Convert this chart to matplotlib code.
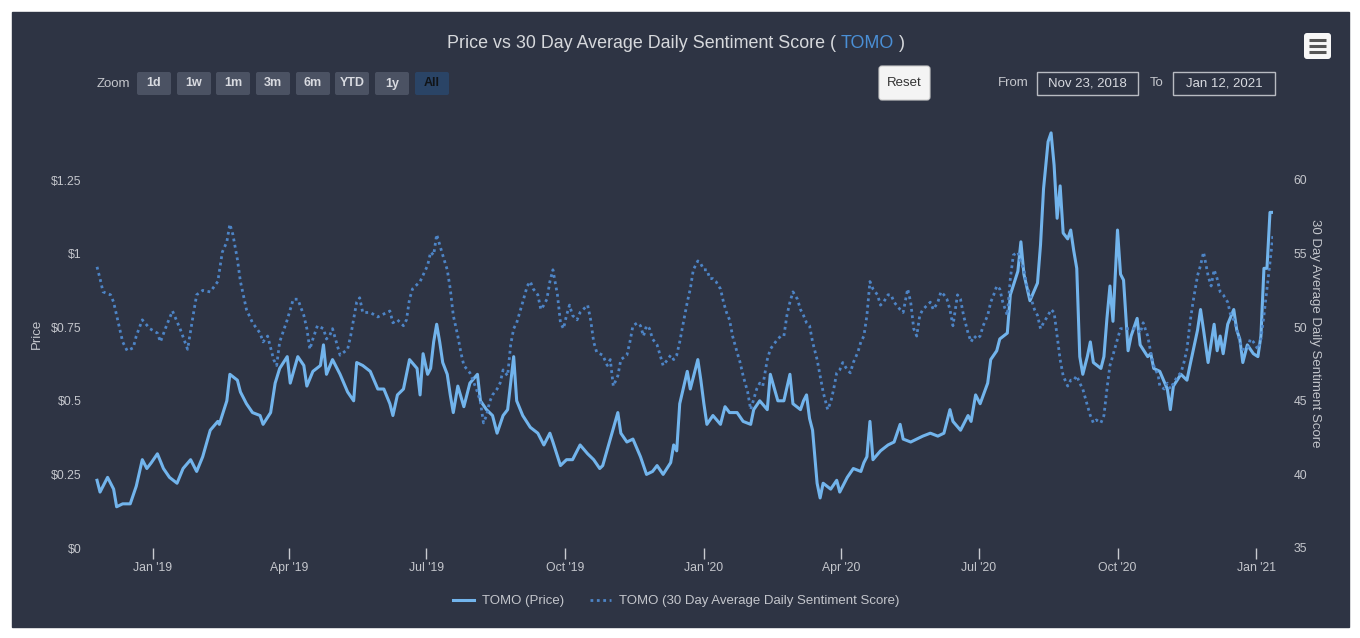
import numpy as np
import matplotlib
matplotlib.use("Agg")
from matplotlib import pyplot as plt
import matplotlib.dates as mdates
from matplotlib.patches import Rectangle, FancyBboxPatch

plt.rcParams['font.family'] = ['Liberation Sans', 'DejaVu Sans']

# datos (dias desde Nov 23, 2018)
start = np.datetime64('2018-11-23')
end = np.datetime64('2021-01-12')

price_days = [2, 4, 9, 13, 15, 19, 24, 28, 32, 35, 38, 42, 46, 50, 55, 59, 64, 68, 72, 77,
              82, 83, 88, 90, 95, 97, 101, 105, 110, 112, 117, 120, 123, 128, 130, 135, 139, 141, 145, 150,
              152, 154, 158, 163, 168, 172, 174, 178, 183, 188, 192, 196, 198, 201, 205, 209, 214, 216, 218, 221,
              223, 225, 227, 229, 231, 234, 236, 238, 241, 245, 249, 254, 256, 260, 264, 267, 271, 274, 276, 278,
              280, 284, 289, 294, 298, 302, 304, 309, 313, 317, 322, 327, 331, 335, 337, 342, 347, 349, 353, 357,
              362, 366, 370, 373, 377, 382, 384, 386, 388, 393, 395, 400, 402, 404, 406, 410, 415, 418, 421, 426,
              430, 435, 437, 441, 446, 448, 453, 457, 461, 463, 468, 470, 472, 474, 476, 479, 481, 483, 488, 492,
              494, 499, 503, 508, 510, 512, 514, 516, 521, 526, 530, 534, 536, 541, 545, 549, 554, 559, 563, 567,
              569, 574, 579, 581, 584, 587, 592, 594, 598, 600, 605, 607, 612, 614, 616, 620, 625, 627, 629, 632,
              634, 636, 638, 640, 642, 645, 647, 649, 651, 653, 655, 658, 660, 662, 667, 669, 671, 673, 675, 678,
              680, 682, 685, 687, 691, 693, 698, 700, 702, 706, 711, 713, 715, 720, 724, 726, 731, 733, 735, 738,
              742, 744, 746, 748, 751, 755, 757, 759, 761, 764, 768, 771, 773, 775, 777, 779, 781]
price = [0.23, 0.19, 0.24, 0.20, 0.14, 0.15, 0.15, 0.21, 0.30, 0.27, 0.29, 0.32, 0.27, 0.24, 0.22, 0.27, 0.30, 0.26, 0.31, 0.40,
         0.43, 0.42, 0.50, 0.59, 0.57, 0.53, 0.49, 0.46, 0.45, 0.42, 0.46, 0.56, 0.61, 0.65, 0.56, 0.65, 0.62, 0.55, 0.60, 0.62,
         0.69, 0.59, 0.64, 0.59, 0.53, 0.50, 0.63, 0.62, 0.60, 0.54, 0.54, 0.49, 0.45, 0.52, 0.54, 0.64, 0.61, 0.52, 0.66, 0.59,
         0.61, 0.70, 0.76, 0.70, 0.63, 0.59, 0.52, 0.46, 0.55, 0.48, 0.56, 0.59, 0.50, 0.47, 0.45, 0.39, 0.45, 0.47, 0.56, 0.65,
         0.50, 0.45, 0.41, 0.39, 0.35, 0.39, 0.36, 0.28, 0.30, 0.30, 0.35, 0.32, 0.30, 0.27, 0.28, 0.37, 0.46, 0.39, 0.36, 0.37,
         0.31, 0.25, 0.26, 0.28, 0.25, 0.29, 0.35, 0.33, 0.49, 0.60, 0.54, 0.64, 0.57, 0.49, 0.42, 0.45, 0.42, 0.48, 0.46, 0.46,
         0.43, 0.42, 0.47, 0.50, 0.47, 0.59, 0.50, 0.50, 0.59, 0.49, 0.47, 0.50, 0.52, 0.44, 0.40, 0.22, 0.17, 0.22, 0.20, 0.23,
         0.19, 0.24, 0.27, 0.26, 0.29, 0.31, 0.43, 0.30, 0.33, 0.35, 0.36, 0.42, 0.37, 0.36, 0.37, 0.38, 0.39, 0.38, 0.39, 0.47,
         0.43, 0.40, 0.45, 0.43, 0.52, 0.49, 0.56, 0.64, 0.67, 0.71, 0.73, 0.86, 0.94, 1.04, 0.93, 0.84, 0.90, 1.03, 1.22, 1.38,
         1.41, 1.30, 1.12, 1.23, 1.07, 1.05, 1.08, 1.01, 0.95, 0.65, 0.59, 0.65, 0.70, 0.63, 0.61, 0.65, 0.78, 0.89, 0.77, 1.08,
         0.93, 0.91, 0.67, 0.72, 0.78, 0.69, 0.65, 0.66, 0.61, 0.60, 0.54, 0.47, 0.55, 0.59, 0.57, 0.62, 0.74, 0.81, 0.74, 0.63,
         0.76, 0.67, 0.72, 0.66, 0.76, 0.81, 0.74, 0.71, 0.63, 0.69, 0.66, 0.65, 0.72, 0.95, 0.95, 1.14, 1.14]

sent_days = [2, 4, 6, 11, 13, 15, 17, 19, 22, 26, 28, 32, 37, 42, 44, 48, 52, 57, 62, 66,
             68, 72, 77, 82, 85, 88, 90, 92, 95, 97, 101, 105, 110, 112, 115, 119, 121, 123, 128, 132,
             135, 139, 141, 143, 145, 148, 152, 154, 156, 158, 163, 168, 170, 174, 176, 178, 183, 188, 192, 196,
             198, 201, 205, 207, 209, 211, 216, 221, 223, 225, 227, 229, 231, 234, 236, 238, 241, 243, 245, 249,
             251, 254, 256, 258, 260, 262, 264, 267, 269, 271, 274, 276, 278, 280, 282, 284, 287, 289, 291, 294,
             296, 298, 300, 302, 304, 307, 309, 311, 313, 315, 317, 320, 322, 327, 329, 331, 333, 337, 340, 342,
             344, 347, 349, 353, 355, 357, 360, 362, 364, 366, 368, 370, 373, 375, 377, 380, 382, 384, 386, 388,
             390, 393, 395, 397, 400, 402, 404, 406, 408, 410, 412, 415, 417, 419, 421, 423, 426, 428, 430, 433,
             435, 437, 439, 441, 443, 446, 448, 450, 453, 455, 457, 459, 461, 463, 466, 468, 470, 472, 474, 476,
             479, 481, 483, 486, 488, 490, 492, 494, 496, 499, 501, 503, 506, 508, 510, 512, 514, 516, 519, 521,
             523, 526, 528, 530, 534, 536, 539, 541, 543, 545, 547, 549, 552, 554, 556, 559, 561, 563, 565, 567,
             569, 572, 574, 576, 579, 581, 583, 585, 587, 589, 592, 594, 596, 598, 600, 602, 605, 607, 609, 612,
             614, 616, 618, 620, 623, 625, 627, 629, 632, 634, 636, 638, 640, 642, 645, 647, 649, 651, 653, 655,
             658, 660, 662, 664, 667, 669, 671, 673, 675, 678, 680, 685, 689, 691, 693, 695, 698, 700, 702, 705,
             706, 709, 711, 713, 715, 718, 720, 722, 724, 726, 728, 731, 733, 735, 738, 740, 742, 744, 746, 748,
             751, 753, 755, 757, 759, 761, 764, 766, 768, 771, 773, 775, 777, 779, 781]
sentiment = [54.1, 53.3, 52.4, 52.2, 51.7, 50.8, 49.9, 49.0, 48.4, 48.6, 49.4, 50.5, 49.9, 49.6, 49.0, 50.1, 51.1, 49.9, 48.5, 51.0,
             52.2, 52.5, 52.4, 53.1, 55.1, 55.8, 57.0, 56.3, 54.6, 53.1, 51.2, 50.3, 49.6, 49.0, 49.4, 47.8, 47.4, 49.0, 50.5, 51.9,
             51.9, 50.8, 49.9, 48.5, 49.2, 50.1, 49.9, 49.2, 49.4, 49.9, 48.1, 48.5, 49.4, 51.7, 52.0, 51.0, 51.0, 50.7, 50.9, 51.1,
             50.3, 50.5, 50.1, 50.5, 51.9, 52.6, 53.1, 54.2, 55.1, 54.9, 56.3, 55.6, 54.9, 53.9, 52.6, 50.8, 49.4, 48.3, 47.4, 46.9,
             46.4, 45.6, 44.9, 43.5, 44.0, 44.9, 45.4, 45.8, 46.2, 47.1, 46.7, 48.8, 49.9, 50.3, 51.0, 51.7, 52.8, 53.1, 52.6, 52.2,
             51.2, 51.5, 51.9, 53.1, 53.9, 52.2, 50.3, 49.9, 50.8, 51.5, 50.8, 50.5, 51.0, 51.5, 50.5, 49.0, 48.3, 48.1, 47.4, 47.8,
             46.0, 46.7, 47.8, 48.1, 49.0, 50.1, 50.3, 50.1, 49.4, 50.1, 49.9, 49.2, 48.8, 48.1, 47.4, 47.8, 48.1, 47.8, 48.1, 49.0,
             50.1, 51.7, 52.6, 53.9, 54.5, 54.3, 53.9, 53.9, 53.3, 53.3, 53.1, 52.6, 51.7, 51.0, 50.5, 49.4, 48.3, 47.6, 46.7, 45.6,
             44.4, 45.1, 45.8, 46.2, 46.0, 47.8, 48.5, 48.8, 49.2, 49.4, 49.4, 50.8, 51.7, 52.4, 51.9, 51.2, 50.8, 50.3, 50.1, 49.0,
             47.8, 46.7, 45.6, 44.4, 44.9, 45.8, 46.9, 47.1, 47.6, 47.1, 46.9, 47.6, 48.3, 49.0, 49.4, 50.8, 53.1, 52.6, 52.2, 51.5,
             51.7, 52.2, 52.2, 51.7, 51.2, 51.0, 52.6, 51.7, 49.9, 49.4, 50.8, 51.2, 51.5, 51.7, 51.2, 51.7, 52.4, 52.2, 51.9, 51.2,
             50.1, 52.2, 51.9, 50.8, 49.6, 49.0, 49.4, 49.2, 49.4, 50.1, 50.8, 51.7, 52.2, 52.8, 52.6, 51.7, 50.8, 53.3, 54.9, 55.1,
             54.4, 53.9, 52.8, 52.2, 51.2, 50.8, 49.9, 50.3, 50.8, 51.2, 51.0, 49.4, 47.8, 46.7, 46.0, 46.4, 46.4, 46.7, 46.2, 45.8,
             44.7, 44.0, 43.5, 43.7, 43.5, 44.0, 45.8, 47.4, 48.1, 49.2, 49.9, 49.9, 49.9, 49.9, 49.6, 50.3, 49.4, 48.3, 47.4, 46.7,
             46.0, 45.8, 46.2, 45.8, 46.2, 46.7, 46.9, 47.6, 48.5, 50.3, 51.7, 53.5, 54.2, 55.1, 53.5, 52.8, 53.9, 53.3, 52.4, 52.2,
             51.7, 50.8, 50.5, 49.9, 49.0, 48.5, 48.5, 49.2, 49.0, 48.5, 49.2, 50.8, 52.6, 54.4, 56.3]

price_ticks = [0, 0.25, 0.5, 0.75, 1, 1.25]
price_labels = ['$0', '$0.25', '$0.5', '$0.75', '$1', '$1.25']
sent_ticks = [35, 40, 45, 50, 55, 60]
zoom_buttons = ['1d', '1w', '1m', '3m', '6m', 'YTD', '1y', 'All']
from_date = 'Nov 23, 2018'
to_date = 'Jan 12, 2021'

PANEL = '#2e3444'
TXT = '#c4c6cc'
C_PRICE = '#72b4ec'
C_SENT = '#4d84c6'

W, H = 1360, 638
fig = plt.figure(figsize=(W / 100, H / 100), dpi=100)
fig.patch.set_facecolor('white')

# capa en pixeles para el fondo y los controles
ui = fig.add_axes([0, 0, 1, 1])
ui.set_xlim(0, W)
ui.set_ylim(H, 0)
ui.axis('off')
ui.add_patch(Rectangle((12, 12), 1337, 615, color=PANEL, zorder=0))

# titulo
t1 = ui.text(447, 43, 'Price vs 30 Day Average Daily Sentiment Score ( ', color='#d6d8dc',
             fontsize=12.9, va='center', ha='left')
t2 = ui.annotate('TOMO', xy=(1, 0), xycoords=t1, va='bottom', ha='left', color='#4a8fd6', fontsize=12.9)
ui.annotate(' )', xy=(1, 0), xycoords=t2, va='bottom', ha='left', color='#d6d8dc', fontsize=12.9)

# botones de zoom
ui.text(97, 84, 'Zoom', color=TXT, fontsize=9.5, va='center', ha='left')
bx = [137, 177, 216, 256, 296, 335, 375, 415]
for x0, lab in zip(bx, zoom_buttons):
    sel = lab == 'All'
    ui.add_patch(FancyBboxPatch((x0, 72), 34, 23, boxstyle='round,pad=0,rounding_size=2',
                                facecolor='#2a4466' if sel else '#4b5263', edgecolor='none', zorder=2))
    ui.text(x0 + 17, 83.5, lab, color='#111417' if sel else '#d8dae0', fontsize=9,
            fontweight='bold', ha='center', va='center', zorder=3)

# boton reset
ui.add_patch(FancyBboxPatch((879, 66), 51, 34, boxstyle='round,pad=0,rounding_size=3',
                            facecolor='#f4f4f4', edgecolor='#cccccc', lw=0.8, zorder=2))
ui.text(904.5, 83.5, 'Reset', color='#333333', fontsize=9.5, ha='center', va='center', zorder=3)

# rango de fechas
ui.text(998, 83, 'From', color=TXT, fontsize=9.5, ha='left', va='center')
ui.add_patch(Rectangle((1037, 72), 101, 23, facecolor='none', edgecolor='#b8bbc2', lw=1.0))
ui.text(1087.5, 83.5, from_date, color='#d8dae0', fontsize=9.5, ha='center', va='center')
ui.text(1150, 83, 'To', color=TXT, fontsize=9.5, ha='left', va='center')
ui.add_patch(Rectangle((1173, 72), 102, 23, facecolor='none', edgecolor='#b8bbc2', lw=1.0))
ui.text(1224, 83.5, to_date, color='#d8dae0', fontsize=9.5, ha='center', va='center')

# menu
ui.add_patch(FancyBboxPatch((1304, 33), 27, 26, boxstyle='round,pad=0,rounding_size=3',
                            facecolor='#f7f7f7', edgecolor='none', zorder=2))
for yy in [40, 46, 52]:
    ui.plot([1309, 1326], [yy, yy], color='#555555', lw=2.2, solid_capstyle='butt', zorder=3)

# grafico principal
x0, x1, yb, yt = 94, 1273, 548, 119
ax = fig.add_axes([x0 / W, 1 - yb / H, (x1 - x0) / W, (yb - yt) / H])
ax.set_facecolor('none')
ax2 = ax.twinx()

pd_dates = start + np.array(price_days).astype('timedelta64[D]')
sd_dates = start + np.array(sent_days).astype('timedelta64[D]')

l1, = ax.plot(pd_dates, price, color=C_PRICE, lw=2.2, zorder=3, label='TOMO (Price)')
l2, = ax2.plot(sd_dates, sentiment, color=C_SENT, lw=2.0, linestyle=(0, (1, 1.3)),
               zorder=2, label='TOMO (30 Day Average Daily Sentiment Score)')

ax.set_xlim(start, end)
ax.set_ylim(0, (yb - yt) / 294.4)
ax2.set_ylim(35, 35 + (yb - yt) / 14.72)

for a in (ax, ax2):
    for s in a.spines.values():
        s.set_visible(False)

ax.set_yticks(price_ticks)
ax.set_yticklabels(price_labels)
ax.tick_params(axis='y', length=0, pad=9, labelsize=8.8, labelcolor=TXT)
ax2.set_yticks(sent_ticks)
ax2.tick_params(axis='y', length=0, pad=15, labelsize=8.8, labelcolor=TXT)

ax.xaxis.set_major_locator(mdates.MonthLocator(bymonth=[1, 4, 7, 10]))
ax.xaxis.set_major_formatter(mdates.DateFormatter("%b '%y"))
ax.tick_params(axis='x', length=8, width=1, color='#c8cad0', direction='out', pad=2,
               labelsize=8.8, labelcolor=TXT)

ax.set_ylabel('Price', color=TXT, fontsize=9.5, labelpad=6)
ax2.set_ylabel('30 Day Average Daily Sentiment Score', color=TXT, fontsize=9.5, rotation=-90, labelpad=10)

fig.legend(handles=[l1, l2], loc='center', bbox_to_anchor=(676 / W, 1 - 601 / H), ncol=2,
           frameon=False, fontsize=9.5, labelcolor=TXT, handlelength=1.6, columnspacing=2.0,
           handletextpad=0.6)

fig.savefig('out.png', dpi=100, facecolor=fig.get_facecolor())
